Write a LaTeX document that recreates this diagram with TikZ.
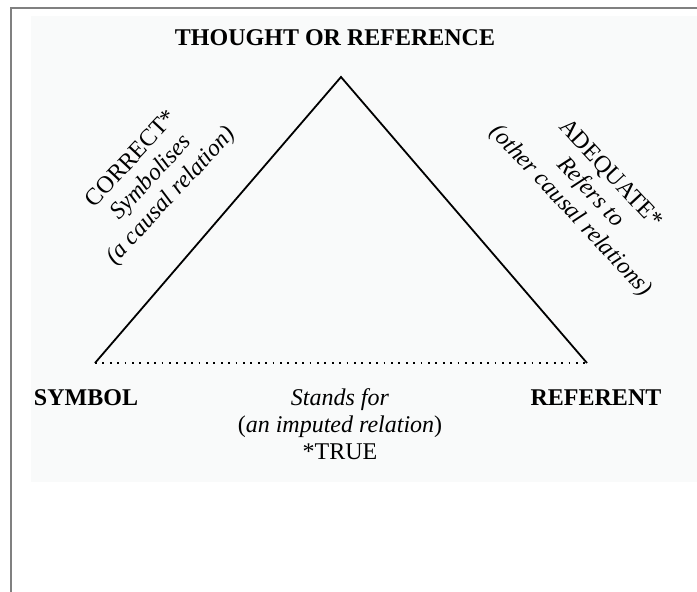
\documentclass[tikz,border=0pt]{standalone}
\usepackage{fontspec}
\setmainfont{Liberation Serif}
\definecolor{panelgray}{RGB}{249,250,250}
\definecolor{framegray}{RGB}{128,128,128}
\begin{document}
\begin{tikzpicture}[x=1pt,y=-1pt,
  lbl/.style={font=\fontsize{24}{27}\selectfont, inner sep=0pt, align=center},
  boldlbl/.style={lbl, font=\fontsize{24}{27}\selectfont\bfseries},
  edge/.style={line width=1.8pt, black},
  imputed/.style={line width=1.8pt, black, dash pattern=on 1.8pt off 5.6pt}]
\useasboundingbox (0,0) rectangle (697,592);
% page background, light panel and grey frame
\fill[white] (0,0) rectangle (697,592);
\fill[panelgray] (31,16) rectangle (697,482);
\draw[framegray, line width=2pt] (11,592) -- (11,8) -- (697,8);

% corners of the triangle
\coordinate (apex) at (341,77);
\coordinate (left) at (95,363);
\coordinate (right) at (587,363);

% sides
\draw[edge] (left) -- (apex) -- (right);
\draw[imputed] (left) -- (right);

% corner labels
\node[boldlbl] (thought) at (335,38) {THOUGHT OR REFERENCE};
\node[boldlbl] (symbol) at (86,398) {SYMBOL};
\node[boldlbl] (referent) at (596,398) {REFERENT};

% side labels
\node[lbl, rotate=47] (symbolises) at (152,178)
  {CORRECT*\\\textit{Symbolises}\\\textit{(a causal relation)}};
\node[lbl, rotate=-47] (refersto) at (590,193)
  {ADEQUATE*\\\textit{Refers to}\\\textit{(other causal relations)}};
\node[lbl] (standsfor) at (340,424)
  {\textit{Stands for}\\(\textit{an imputed relation})\\{}*TRUE};
\end{tikzpicture}
\end{document}
